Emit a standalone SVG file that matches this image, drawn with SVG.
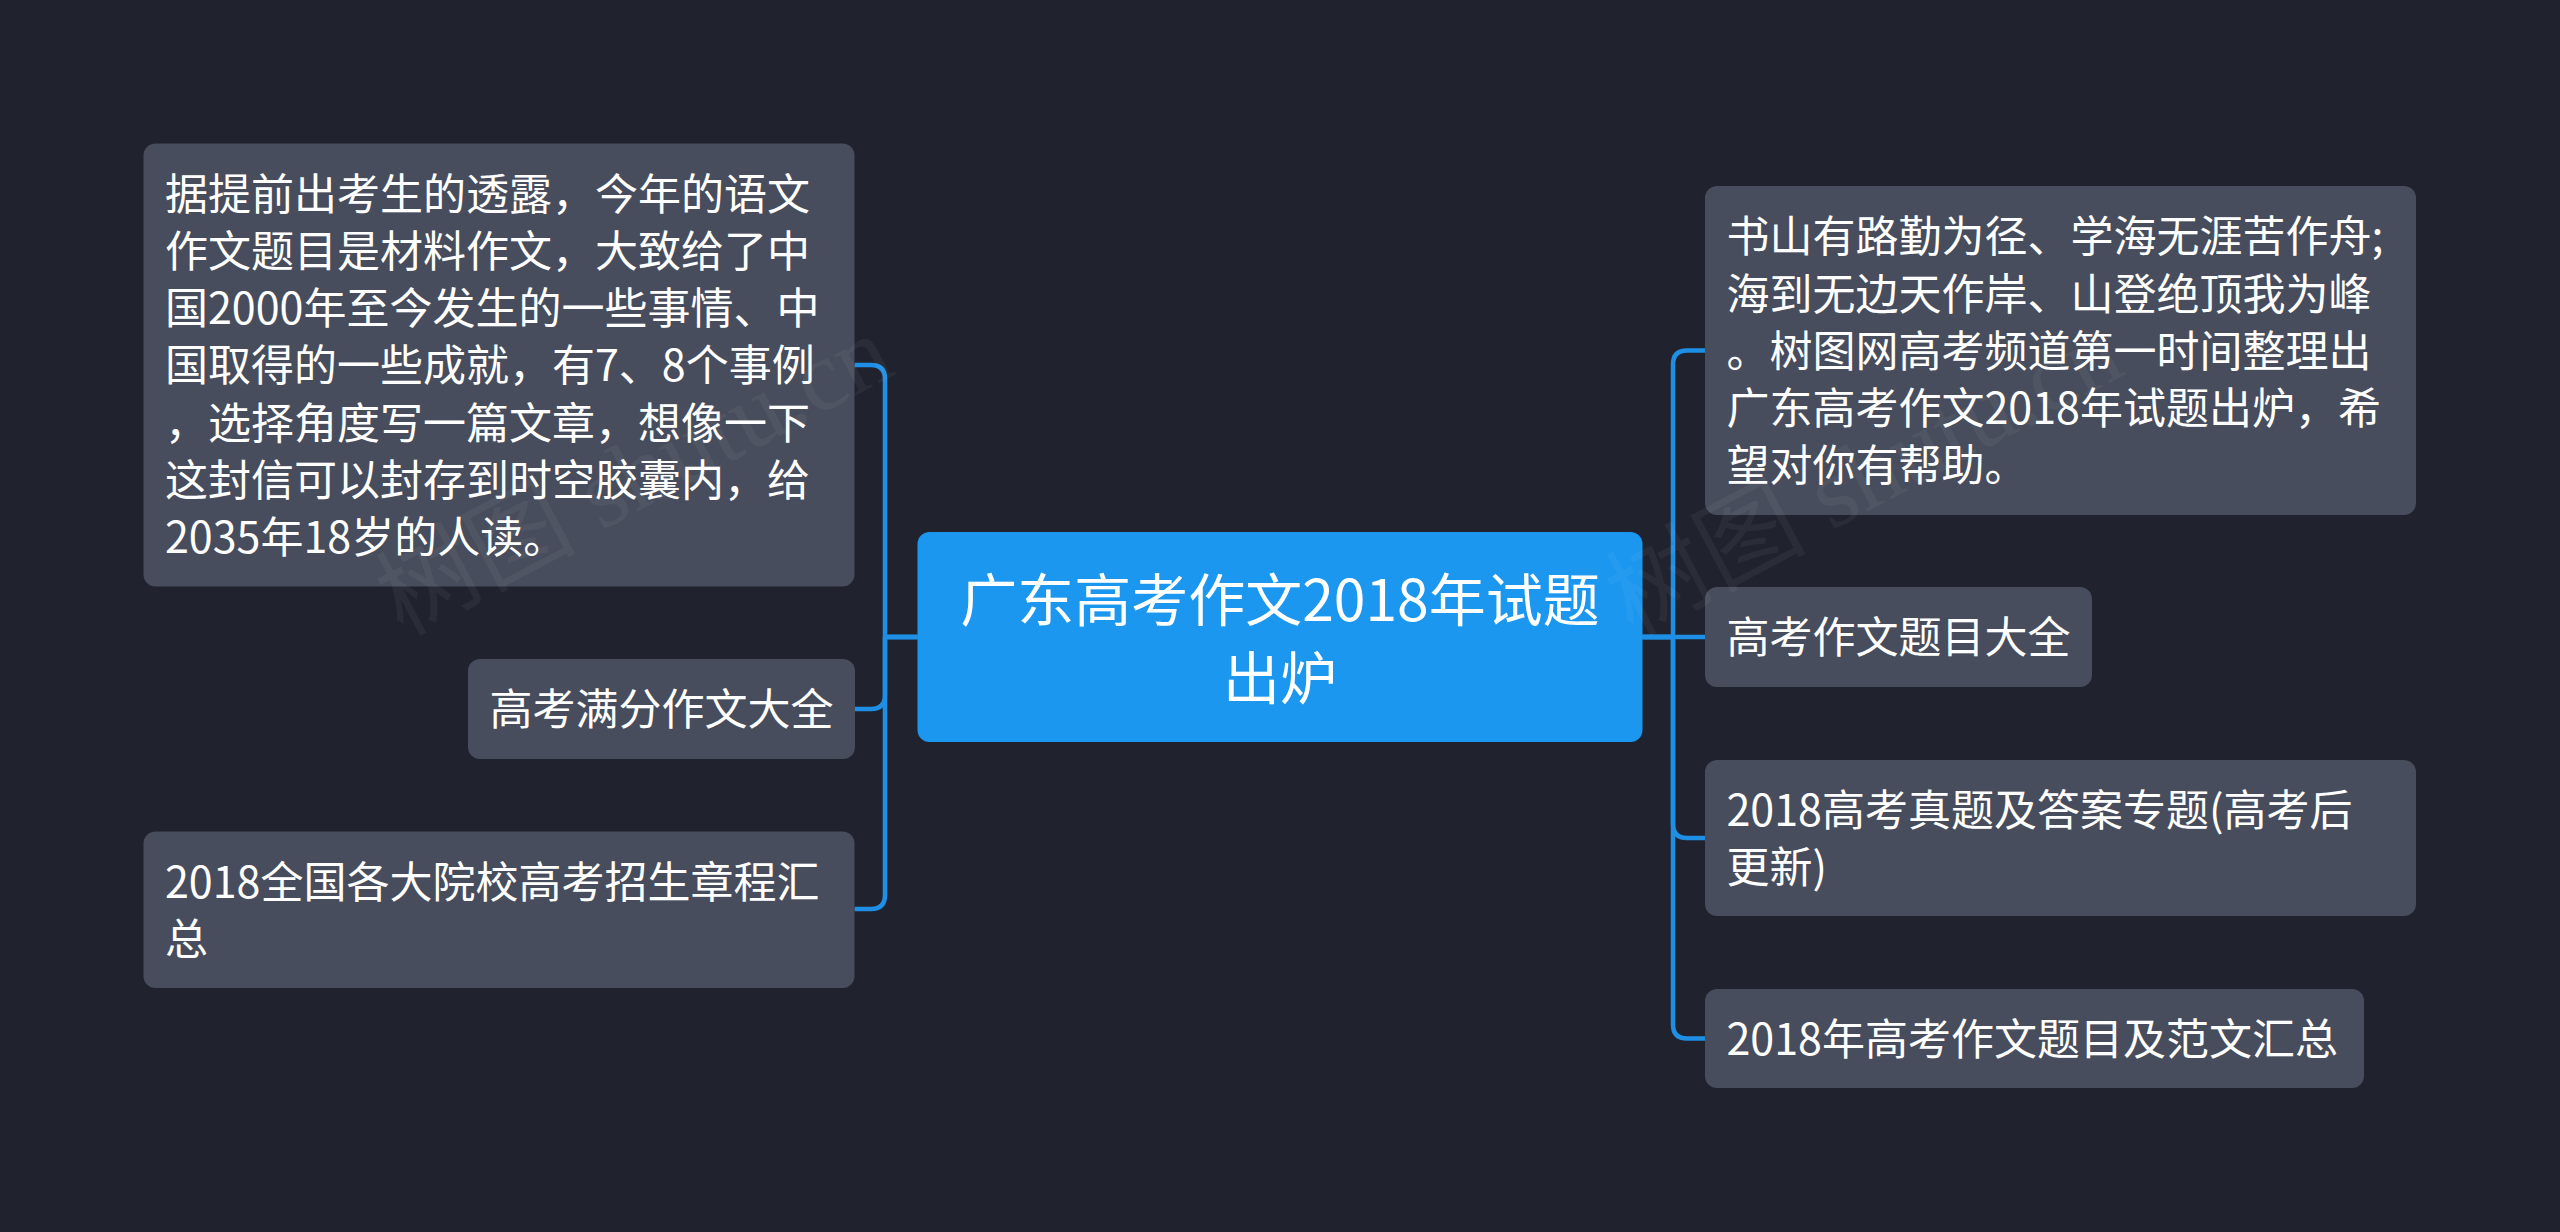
<svg xmlns="http://www.w3.org/2000/svg" width="2560" height="1232" viewBox="0 0 2560 1232">
<style>
.bg{fill:#20232e}
.node{fill:#474d5c}
.root{fill:#1b97ef}
.t{font-family:"Noto Sans CJK SC","Noto Sans",sans-serif;font-size:43px;fill:#ffffff}
.rt{font-family:"Noto Sans CJK SC","Noto Sans",sans-serif;font-size:57px;fill:#ffffff;text-anchor:middle}
.c{fill:none;stroke:#1f8fe6;stroke-width:4.5;stroke-linejoin:round}
.wm{font-family:"Liberation Serif","Noto Sans CJK SC",serif;font-size:100px;fill:#ffffff;opacity:0.045;text-anchor:middle}
</style>
<rect class="bg" x="0" y="0" width="2560" height="1232"/>
<g id="connectors">
<path class="c" d="M917.5,637 H885 V379 Q885,365 871,365 H854.5"/>
<path class="c" d="M917.5,637 H885 V695 Q885,709 871,709 H855"/>
<path class="c" d="M917.5,637 H885 V895 Q885,909 871,909 H854.5"/>
<path class="c" d="M1642.5,637 H1673 V364.5 Q1673,350.5 1687,350.5 H1705"/>
<path class="c" d="M1642.5,637 H1705"/>
<path class="c" d="M1642.5,637 H1673 V824 Q1673,838 1687,838 H1705"/>
<path class="c" d="M1642.5,637 H1673 V1024.5 Q1673,1038.5 1687,1038.5 H1705"/>
</g>
<g id="root">
<rect class="root" x="917.5" y="532" width="725" height="210" rx="12"/>
<text class="rt" x="1280" y="620.5">广东高考作文2018年试题</text>
<text class="rt" x="1280" y="699">出炉</text>
</g>
<g id="left-1">
<rect class="node" x="143.5" y="143.5" width="711" height="443" rx="12"/>
<text class="t" x="165" y="209.5">据提前出考生的透露，今年的语文</text>
<text class="t" x="165" y="266.8">作文题目是材料作文，大致给了中</text>
<text class="t" x="165" y="324.1">国2000年至今发生的一些事情、中</text>
<text class="t" x="165" y="381.4">国取得的一些成就，有7、8个事例</text>
<text class="t" x="165" y="438.7">，选择角度写一篇文章，想像一下</text>
<text class="t" x="165" y="496">这封信可以封存到时空胶囊内，给</text>
<text class="t" x="165" y="553.3">2035年18岁的人读。</text>
</g>
<g id="left-2">
<rect class="node" x="468" y="659" width="387" height="100" rx="12"/>
<text class="t" x="489.5" y="725.3">高考满分作文大全</text>
</g>
<g id="left-3">
<rect class="node" x="143.5" y="831.5" width="711" height="156.5" rx="12"/>
<text class="t" x="165" y="897.5">2018全国各大院校高考招生章程汇</text>
<text class="t" x="165" y="954.8">总</text>
</g>
<g id="right-1">
<rect class="node" x="1705" y="186" width="711" height="329" rx="12"/>
<text class="t" x="1726.5" y="252.2">书山有路勤为径、学海无涯苦作舟;</text>
<text class="t" x="1726.5" y="309.5">海到无边天作岸、山登绝顶我为峰</text>
<text class="t" x="1726.5" y="366.8">。树图网高考频道第一时间整理出</text>
<text class="t" x="1726.5" y="424.1">广东高考作文2018年试题出炉，希</text>
<text class="t" x="1726.5" y="481.4">望对你有帮助。</text>
</g>
<g id="right-2">
<rect class="node" x="1705" y="587" width="387" height="100" rx="12"/>
<text class="t" x="1726.5" y="653.3">高考作文题目大全</text>
</g>
<g id="right-3">
<rect class="node" x="1705" y="760" width="711" height="156" rx="12"/>
<text class="t" x="1726.5" y="825.7">2018高考真题及答案专题(高考后</text>
<text class="t" x="1726.5" y="883">更新)</text>
</g>
<g id="right-4">
<rect class="node" x="1705" y="989" width="659" height="99" rx="12"/>
<text class="t" x="1726.5" y="1054.8">2018年高考作文题目及范文汇总</text>
</g>
<g id="watermark">
<text class="wm" transform="translate(650 505) rotate(-28)">树图 shutu.cn</text>
<text class="wm" transform="translate(1880 505) rotate(-28)">树图 shutu.cn</text>
</g>
</svg>
